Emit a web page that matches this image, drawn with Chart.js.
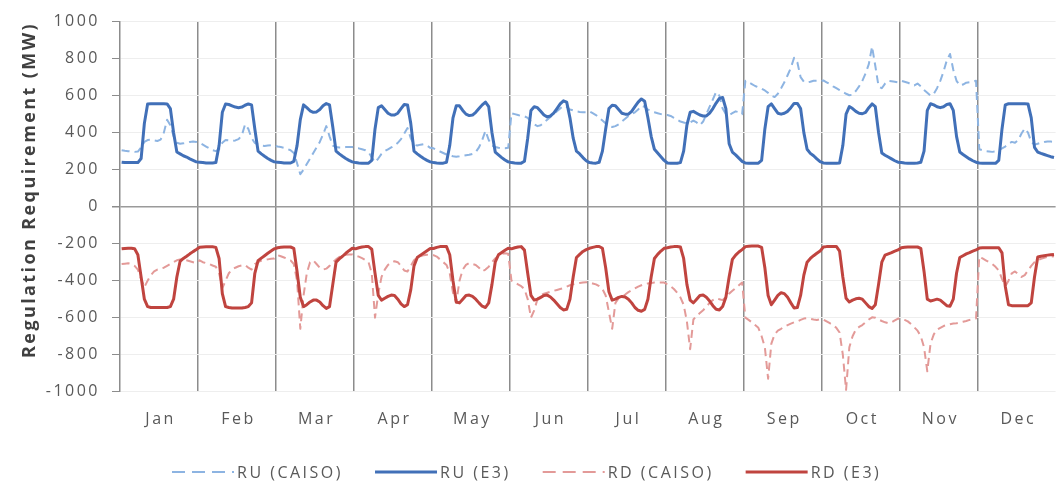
<!DOCTYPE html>
<html>
<head>
<meta charset="utf-8">
<script src="https://cdn.jsdelivr.net/npm/chart.js@4.4.1/dist/chart.umd.min.js"></script>
<style>
  html, body { margin: 0; padding: 0; background: #fff; overflow: hidden; }
  #wrap { position: relative; width: 1072px; height: 483px; }
</style>
</head>
<body>
<div id="wrap"><canvas id="chart"></canvas></div>
<script>
/* Regulation requirement: average daily profile (24 h) per month, CAISO vs E3 */
const MONTHS = ['Jan','Feb','Mar','Apr','May','Jun','Jul','Aug','Sep','Oct','Nov','Dec'];
const Y_TITLE = 'Regulation Requirement (MW)';
const SERIES_NAMES = ['RU (CAISO)', 'RU (E3)', 'RD (CAISO)', 'RD (E3)'];

// one row per month, hours 0..23
const ruCaiso = [
  [305,302,300,298,296,298,320,350,360,362,358,355,362,400,470,440,380,345,340,342,345,350,352,350],
  [345,335,325,315,305,300,310,345,360,358,355,358,365,385,445,420,370,345,335,330,328,330,332,330],
  [325,322,318,312,305,290,235,175,200,230,260,290,320,350,390,435,380,330,322,320,320,322,322,322],
  [318,315,310,305,295,265,240,260,285,300,310,320,330,345,365,395,425,370,335,330,335,338,330,318],
  [315,305,298,290,282,278,272,270,272,275,278,280,285,295,320,360,410,360,330,322,318,315,315,318],
  [505,500,495,490,488,480,460,445,435,440,455,470,485,500,515,530,545,540,525,520,515,512,510,510],
  [515,505,495,480,465,450,435,430,435,445,460,475,490,500,510,525,545,540,525,515,510,505,500,495],
  [495,490,480,470,460,455,450,455,465,455,440,460,500,540,580,620,600,530,500,495,505,515,510,500],
  [680,672,662,652,645,638,628,615,600,592,610,640,672,710,750,805,780,700,675,672,675,680,680,678],
  [682,672,662,650,640,630,620,610,602,605,625,650,680,720,770,865,760,650,640,665,680,678,675,672],
  [680,675,670,662,655,665,650,630,615,600,610,640,680,730,790,825,740,680,655,660,670,672,675,680],
  [310,305,300,298,296,298,305,315,325,340,350,345,360,395,422,400,350,335,340,345,350,352,352,350]
];
const ruE3 = [
  [240,238,238,238,238,238,260,450,555,556,556,556,556,556,555,530,400,295,285,275,268,258,250,242],
  [240,238,236,236,236,238,330,510,555,552,545,538,535,538,548,555,550,420,300,285,272,260,250,242],
  [240,238,236,236,236,245,330,470,550,535,518,510,512,525,545,557,550,430,300,285,272,260,250,242],
  [238,236,235,235,235,250,420,535,545,525,505,495,495,505,530,552,550,450,300,285,272,260,250,242],
  [238,236,235,235,240,330,480,545,545,520,500,492,495,510,530,550,565,540,400,295,280,265,252,242],
  [238,236,235,235,245,370,520,540,535,515,495,485,490,505,530,555,572,565,480,370,300,285,265,248],
  [238,236,235,240,300,420,530,548,545,525,505,500,500,515,540,565,582,570,480,380,310,290,270,250],
  [236,235,235,235,238,300,440,510,515,505,495,490,490,505,530,560,585,590,530,340,295,280,262,245],
  [236,235,235,235,235,250,420,540,555,530,505,500,505,515,535,558,558,530,400,310,288,275,258,243],
  [236,235,234,234,234,236,330,500,541,530,515,505,502,510,535,555,540,400,290,278,268,258,248,240],
  [238,236,235,235,235,236,240,300,520,556,550,540,535,540,552,556,520,380,295,282,270,258,248,240],
  [236,235,234,234,234,234,250,420,550,556,556,556,556,556,556,555,480,320,295,288,282,276,270,266]
];
const rdCaiso = [
  [-310,-308,-306,-310,-320,-340,-390,-435,-400,-370,-350,-340,-335,-330,-320,-310,-300,-290,-285,-285,-290,-295,-300,-305],
  [-290,-300,-305,-310,-318,-325,-360,-440,-400,-360,-340,-330,-322,-318,-315,-330,-340,-310,-300,-292,-288,-285,-282,-280],
  [-262,-268,-275,-282,-290,-310,-400,-660,-480,-360,-300,-290,-310,-330,-340,-335,-320,-300,-285,-272,-265,-260,-258,-258],
  [-265,-270,-278,-288,-300,-360,-600,-470,-380,-340,-315,-300,-295,-300,-320,-345,-350,-320,-290,-275,-268,-262,-260,-262],
  [-262,-270,-285,-300,-315,-360,-465,-520,-400,-340,-315,-305,-310,-315,-330,-350,-340,-325,-300,-280,-265,-255,-252,-255],
  [-400,-410,-420,-430,-445,-500,-600,-560,-500,-480,-470,-465,-460,-455,-450,-445,-440,-432,-425,-420,-415,-412,-410,-408],
  [-410,-415,-420,-430,-445,-480,-570,-660,-520,-495,-485,-475,-462,-452,-442,-432,-425,-418,-415,-412,-410,-410,-410,-410],
  [-420,-430,-445,-465,-490,-530,-620,-770,-610,-590,-575,-560,-540,-520,-505,-495,-500,-505,-490,-470,-455,-440,-425,-410],
  [-600,-612,-625,-640,-655,-700,-760,-930,-740,-690,-670,-660,-648,-640,-632,-625,-620,-612,-605,-603,-606,-610,-612,-608],
  [-610,-620,-630,-640,-655,-680,-800,-990,-760,-700,-665,-650,-640,-625,-610,-598,-600,-610,-618,-625,-630,-625,-615,-605],
  [-608,-612,-620,-635,-652,-670,-700,-760,-890,-740,-690,-665,-655,-645,-640,-635,-632,-630,-626,-622,-618,-612,-608,-604],
  [-270,-280,-290,-300,-310,-325,-345,-390,-430,-400,-360,-350,-365,-380,-370,-345,-320,-300,-290,-282,-276,-272,-270,-268]
];
const rdE3 = [
  [-228,-226,-225,-225,-228,-260,-380,-500,-540,-545,-545,-545,-545,-545,-545,-540,-500,-380,-295,-280,-268,-255,-243,-232],
  [-220,-218,-217,-217,-217,-220,-280,-470,-540,-545,-548,-548,-548,-548,-545,-540,-520,-360,-292,-278,-265,-252,-240,-228],
  [-222,-220,-218,-218,-218,-225,-350,-490,-540,-530,-515,-505,-505,-515,-535,-550,-540,-420,-300,-282,-268,-252,-238,-225],
  [-228,-222,-218,-216,-216,-230,-360,-480,-505,-495,-485,-478,-480,-500,-525,-540,-530,-450,-320,-275,-262,-250,-238,-226],
  [-226,-220,-216,-215,-216,-260,-400,-515,-520,-500,-480,-478,-485,-500,-520,-538,-545,-520,-420,-300,-260,-248,-236,-225],
  [-228,-222,-218,-216,-235,-360,-480,-505,-500,-490,-480,-478,-488,-505,-525,-545,-558,-555,-500,-380,-275,-258,-242,-232],
  [-225,-220,-216,-215,-225,-330,-460,-505,-500,-490,-485,-488,-500,-520,-545,-560,-565,-555,-500,-380,-280,-258,-240,-225],
  [-222,-218,-216,-215,-218,-280,-420,-505,-520,-500,-480,-478,-490,-510,-535,-555,-558,-540,-490,-380,-285,-262,-245,-232],
  [-216,-214,-213,-213,-213,-220,-330,-480,-530,-505,-480,-465,-470,-490,-520,-548,-545,-480,-370,-300,-280,-265,-252,-240],
  [-218,-216,-215,-215,-215,-240,-380,-495,-515,-505,-498,-495,-500,-520,-540,-550,-530,-420,-300,-262,-255,-248,-240,-234],
  [-222,-220,-218,-218,-218,-218,-225,-350,-500,-510,-505,-500,-505,-520,-535,-538,-500,-360,-275,-265,-255,-248,-240,-234],
  [-224,-222,-222,-222,-222,-222,-222,-250,-430,-530,-535,-535,-535,-535,-535,-535,-520,-380,-272,-268,-265,-262,-260,-258]
];

const HOURS = 24;
const labels = MONTHS.flatMap((m) => Array.from({ length: HOURS }, (_, h) => `${m} ${h}:00`));

const TEXT = '#595959';
const FONT = '"Open Sans", "DejaVu Sans", sans-serif';

// axis title + legend, drawn by hand to match the original layout
const decor = {
  id: 'decor',
  beforeDraw(chart) { chart.ctx.letterSpacing = '2.5px'; },
  afterDraw(chart) {
    const ctx = chart.ctx;
    ctx.save();
    ctx.fillStyle = '#404040';
    ctx.font = `bold 18px ${FONT}`;
    ctx.letterSpacing = '2.4px';
    ctx.translate(30, 190);
    ctx.rotate(-Math.PI / 2);
    ctx.textAlign = 'center';
    ctx.textBaseline = 'middle';
    ctx.fillText(Y_TITLE, 0, 0);
    ctx.restore();

    ctx.save();
    ctx.font = `16px ${FONT}`;
    ctx.letterSpacing = '2.5px';
    ctx.textBaseline = 'middle';
    ctx.fillStyle = TEXT;
    let x = 172;
    const y = 472;
    chart.data.datasets.forEach((ds) => {
      ctx.beginPath();
      ctx.strokeStyle = ds.borderColor;
      ctx.lineWidth = ds.borderWidth;
      ctx.setLineDash(ds.borderDash ? [13, 7] : []);
      ctx.moveTo(x, y); ctx.lineTo(x + 62, y);
      ctx.stroke();
      ctx.setLineDash([]);
      x += 65;
      ctx.fillText(ds.label, x, y + 1);
      x += ctx.measureText(ds.label).width + 32;
    });
    ctx.restore();
    ctx.letterSpacing = '0px';
  }
};

new Chart(document.getElementById('chart'), {
  type: 'line',
  data: {
    labels,
    datasets: [
      { label: SERIES_NAMES[0], data: ruCaiso.flat(), borderColor: '#8db4e2', borderWidth: 2, borderDash: [8, 5], order: 4 },
      { label: SERIES_NAMES[1], data: ruE3.flat(), borderColor: '#4170b8', borderWidth: 3, order: 3 },
      { label: SERIES_NAMES[2], data: rdCaiso.flat(), borderColor: '#e39a98', borderWidth: 2, borderDash: [8, 5], order: 2 },
      { label: SERIES_NAMES[3], data: rdE3.flat(), borderColor: '#c0443f', borderWidth: 3, order: 1 },
    ]
  },
  options: {
    responsive: true,
    maintainAspectRatio: false,
    animation: false,
    layout: { padding: { top: 20, right: 5, left: 0, bottom: 0 } },
    elements: { point: { radius: 0 }, line: { tension: 0, borderJoinStyle: 'round' } },
    plugins: { legend: { display: false }, tooltip: { enabled: false } },
    scales: {
      x: {
        type: 'category',
        offset: true,
        border: { display: false },
        grid: {
          offset: true,
          drawTicks: false,
          lineWidth: 1.5,
          color: (c) => (c.index > 0 && c.index % HOURS === 0 ? '#8c8c8c' : 'transparent'),
        },
        ticks: {
          autoSkip: false, maxRotation: 0, minRotation: 0, padding: 18,
          color: TEXT, font: { family: FONT, size: 16 },
          callback: (v, i) => (i % HOURS === 12 ? MONTHS[Math.floor(i / HOURS)] : ''),
        },
        afterFit: (s) => { s.height = 91.3; },
      },
      y: {
        min: -1000, max: 1000,
        border: { display: true, color: '#8c8c8c', width: 1.5 },
        grid: {
          color: (c) => (c.tick && c.tick.value === 0 ? '#9a9a9a' : '#eeeeee'),
          lineWidth: (c) => (c.tick && c.tick.value === 0 ? 1.5 : 1),
          tickColor: '#8c8c8c', tickLength: 8,
        },
        ticks: { stepSize: 200, padding: 12, color: TEXT, font: { family: FONT, size: 16 }, callback: (v) => String(v) },
        afterFit: (s) => { s.width = 120; },
      }
    }
  },
  plugins: [decor]
});
</script>
</body>
</html>
